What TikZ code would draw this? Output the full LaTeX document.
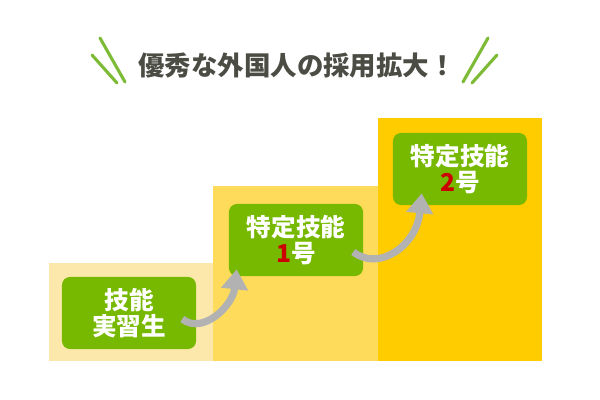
\documentclass[tikz,border=0pt]{standalone}
\usepackage{fontspec}
\newfontfamily\jpfont{Noto Sans CJK JP}
\usetikzlibrary{arrows.meta,calc}
\definecolor{titlegray}{HTML}{4B4D45}
\definecolor{slashgreen}{HTML}{7DBB36}
\definecolor{boxgreen}{HTML}{76B900}
\definecolor{stepone}{HTML}{FBE8AA}
\definecolor{steptwo}{HTML}{FEDB5A}
\definecolor{stepthree}{HTML}{FFCC00}
\definecolor{numred}{HTML}{CC0000}
\begin{document}
\begin{tikzpicture}[x=0.025cm,y=-0.025cm,
every node/.style={font=\jpfont\bfseries},
slash/.style={slashgreen,line width=2.2pt,line cap=round},
greenbox/.style={fill=boxgreen,rounded corners=0.2cm,text=white,align=center,
  minimum width=3.35cm,minimum height=1.8cm,font=\jpfont\bfseries\fontsize{17.5}{19}\selectfont},
uparrow/.style={draw=gray!60,line width=0.18cm,-{Triangle[width=0.65cm,length=0.5cm]}}]

\useasboundingbox (0,0) rectangle (600,400);

% steps
\fill[stepone]   (49,263)  rectangle (214,361);
\fill[steptwo]   (213,186) rectangle (378,361);
\fill[stepthree] (378,118) rectangle (542,361);

% title
\node[text=titlegray,font=\jpfont\bfseries\fontsize{18.8}{20}\selectfont] (title) at (297,66) {優秀な外国人の採用拡大！};
\draw[slash] (100,38) -- (125,82);
\draw[slash] (92,55)  -- (117,83);
\draw[slash] (488,38) -- (463,82);
\draw[slash] (497,55) -- (472,83);

% boxes
\node[greenbox] (b1) at (129,313) {技能\\実習生};
\node[greenbox] (b2) at (296,240) {特定技能\\{\color{numred}1}号};
\node[greenbox] (b3) at (460,169) {特定技能\\{\color{numred}2}号};

% arrows
\draw[uparrow] ($(b1.east)+(-14,6)$) .. controls ($(b1.east)+(6,22)$) and ($(b2.south west)+(4,30)$) .. ($(b2.south west)+(8,-7)$);
\draw[uparrow] ($(b2.east)+(-10,12)$) .. controls ($(b2.east)+(16,32)$) and ($(b3.south west)+(24,40)$) .. ($(b3.south west)+(29,-12)$);

\end{tikzpicture}
\end{document}
